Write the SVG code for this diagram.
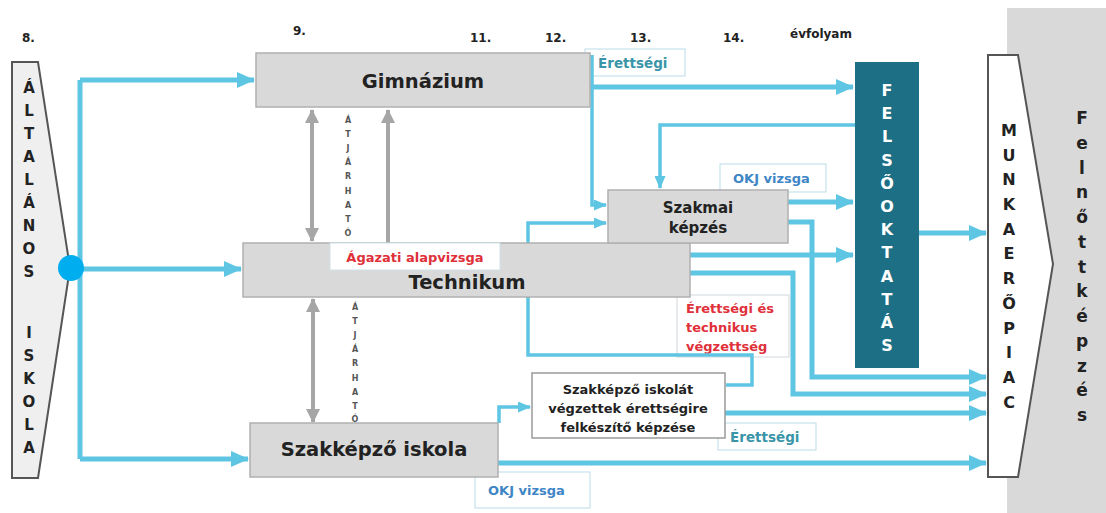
<svg xmlns="http://www.w3.org/2000/svg" width="1106" height="513" viewBox="0 0 1106 513">
<style>
text{font-family:"DejaVu Sans","Liberation Sans",sans-serif;font-weight:bold}
.box{fill:#d9d9d9;stroke:#b0b0b0;stroke-width:1.5}
.hdr{font-size:12px;fill:#222}
.big{font-size:19.5px;fill:#222;text-anchor:middle}
.vl{font-size:15px;fill:#222;text-anchor:middle}
.vw{font-size:16px;fill:#fff;text-anchor:middle}
.tiny{font-size:8px;fill:#555;text-anchor:middle}
.lbl{fill:#fff;stroke:#b9dce8;stroke-width:1}
.teal{font-size:13.5px;fill:#3a95a8}
.okj{font-size:13px;fill:#3f86c6}
.red{font-size:13px;fill:#e0303a}
.c{fill:none;stroke:#5ec5e3;stroke-width:5}
.t{fill:none;stroke:#5ec5e3;stroke-width:3.5}
.g{fill:none;stroke:#a6a6a6;stroke-width:4}
</style>
<defs>
<marker id="ab" viewBox="0 0 18 16" refX="17" refY="8" markerWidth="18" markerHeight="16" markerUnits="userSpaceOnUse" orient="auto"><path d="M0,0 L18,8 L0,16 z" fill="#5ec5e3"/></marker>
<marker id="as" viewBox="0 0 13 11" refX="12" refY="5.5" markerWidth="13" markerHeight="11" markerUnits="userSpaceOnUse" orient="auto"><path d="M0,0 L13,5.5 L0,11 z" fill="#5ec5e3"/></marker>
<marker id="ag" viewBox="0 0 14 14" refX="13" refY="7" markerWidth="14" markerHeight="14" markerUnits="userSpaceOnUse" orient="auto-start-reverse"><path d="M0,0 L14,7 L0,14 z" fill="#a6a6a6"/></marker>
</defs>
<rect width="1106" height="513" fill="#fff"/>
<rect x="1007" y="8" width="99" height="505" fill="#d9d9d9"/>

<g id="headers">
<text class="hdr" x="22" y="42">8.</text>
<text class="hdr" x="293" y="35">9.</text>
<text class="hdr" x="470" y="42">11.</text>
<text class="hdr" x="545" y="42">12.</text>
<text class="hdr" x="630" y="42">13.</text>
<text class="hdr" x="723" y="42">14.</text>
<text class="hdr" x="790" y="38">évfolyam</text>
</g>

<g id="labels">
<g id="lbl-erettsegi-top"><rect class="lbl" x="585" y="49" width="100" height="27"/><text class="teal" x="598" y="68">Érettségi</text></g>
<g id="lbl-okj-top"><rect class="lbl" x="720" y="164" width="106" height="28"/><text class="okj" x="733" y="183">OKJ vizsga</text></g>
<g id="lbl-erett-tech"><rect x="677" y="295" width="112" height="62" fill="#fff" stroke="#d0d8dc" stroke-width="1"/>
<text class="red" x="686" y="313">Érettségi és</text><text class="red" x="686" y="332">technikus</text><text class="red" x="686" y="351">végzettség</text></g>
<g id="lbl-erettsegi-bottom"><rect class="lbl" x="718" y="423" width="98" height="27"/><text class="teal" x="730" y="442">Érettségi</text></g>
<g id="lbl-okj-bottom"><rect class="lbl" x="475" y="472" width="115" height="36"/><text class="okj" x="488" y="495">OKJ vizsga</text></g>
</g>

<g id="connectors">
<path class="c" d="M80,80 V459"/>
<path class="c" d="M80,80 H254" marker-end="url(#ab)"/>
<path class="c" d="M72,269 H241" marker-end="url(#ab)"/>
<path class="c" d="M80,459 H248" marker-end="url(#ab)"/>
<path class="c" d="M590,87 H853" marker-end="url(#ab)"/>
<path class="t" d="M592,55 V205 H606" marker-end="url(#as)"/>
<path class="t" d="M855,125 H660 V188" marker-end="url(#as)"/>
<path class="t" d="M528,243 V223 H606" marker-end="url(#as)"/>
<path class="c" d="M788,202 H853" marker-end="url(#ab)"/>
<path class="c" d="M788,222 H812 V377 H986" marker-end="url(#ab)"/>
<path class="c" d="M690,255 H853" marker-end="url(#ab)"/>
<path class="c" d="M690,273 H793 V394 H986" marker-end="url(#ab)"/>
<path class="t" d="M528,297 V355 H752 V385 H726"/>
<path class="t" d="M499,423 V407 H530" marker-end="url(#as)"/>
<path class="c" d="M725,413 H986" marker-end="url(#ab)"/>
<path class="c" d="M498,463 H986" marker-end="url(#ab)"/>
<path class="c" d="M919,233 H986" marker-end="url(#ab)"/>
<path class="g" d="M312,110 V241" marker-start="url(#ag)" marker-end="url(#ag)"/>
<path class="g" d="M388,243 V110" marker-end="url(#ag)"/>
<path class="g" d="M313,299 V422" marker-start="url(#ag)" marker-end="url(#ag)"/>
</g>

<g id="atjarhato-1">
<text class="tiny"><tspan x="348" y="123">Á</tspan><tspan x="348" y="137">T</tspan><tspan x="348" y="151">J</tspan><tspan x="348" y="165">Á</tspan><tspan x="348" y="179">R</tspan><tspan x="348" y="194">H</tspan><tspan x="348" y="208">A</tspan><tspan x="348" y="222">T</tspan><tspan x="348" y="236">Ó</tspan></text>
</g>
<g id="atjarhato-2">
<text class="tiny"><tspan x="355" y="310">Á</tspan><tspan x="355" y="324">T</tspan><tspan x="355" y="338">J</tspan><tspan x="355" y="352">Á</tspan><tspan x="355" y="366">R</tspan><tspan x="355" y="381">H</tspan><tspan x="355" y="395">A</tspan><tspan x="355" y="409">T</tspan><tspan x="355" y="422">Ó</tspan></text>
</g>

<g id="altalanos-iskola">
<polygon points="12,62 38,62 70,268 38,478 12,478" fill="#efefef" stroke="#555" stroke-width="2"/>
<text class="vl"><tspan x="29" y="93">Á</tspan><tspan x="29" y="116">L</tspan><tspan x="29" y="139">T</tspan><tspan x="29" y="162">A</tspan><tspan x="29" y="185">L</tspan><tspan x="29" y="208">Á</tspan><tspan x="29" y="231">N</tspan><tspan x="29" y="254">O</tspan><tspan x="29" y="277">S</tspan><tspan x="29" y="338">I</tspan><tspan x="29" y="361">S</tspan><tspan x="29" y="384">K</tspan><tspan x="29" y="407">O</tspan><tspan x="29" y="430">L</tspan><tspan x="29" y="453">A</tspan></text>
<circle cx="71" cy="268" r="13" fill="#00aeef"/>
</g>

<g id="gimnazium">
<rect class="box" x="256" y="53" width="334" height="54"/>
<text class="big" x="423" y="88">Gimnázium</text>
</g>

<g id="technikum">
<rect class="box" x="243" y="243" width="447" height="54"/>
<rect x="330" y="243" width="170" height="27" fill="#fff" stroke="#cfe3ea" stroke-width="1"/>
<text class="red" x="415" y="262" text-anchor="middle">Ágazati alapvizsga</text>
<text class="big" x="467" y="289">Technikum</text>
</g>

<g id="szakkepzo-iskola">
<rect class="box" x="250" y="423" width="248" height="54"/>
<text class="big" x="374" y="456">Szakképző iskola</text>
</g>

<g id="szakmai-kepzes">
<rect class="box" x="608" y="190" width="180" height="53"/>
<text x="698" y="213" font-size="15" fill="#222" text-anchor="middle">Szakmai</text>
<text x="698" y="233" font-size="15" fill="#222" text-anchor="middle">képzés</text>
</g>

<g id="szakkepzo-erettsegi">
<rect x="532" y="373" width="193" height="65" fill="#fff" stroke="#9a9a9a" stroke-width="1.5"/>
<text x="628" y="394" font-size="13" fill="#222" text-anchor="middle">Szakképző iskolát</text>
<text x="628" y="413" font-size="13" fill="#222" text-anchor="middle">végzettek érettségire</text>
<text x="628" y="432" font-size="13" fill="#222" text-anchor="middle">felkészítő képzése</text>
</g>

<g id="felsooktatas">
<rect x="855" y="62" width="64" height="306" fill="#1d6f86"/>
<text class="vw"><tspan x="887" y="96">F</tspan><tspan x="887" y="119">E</tspan><tspan x="887" y="142">L</tspan><tspan x="887" y="166">S</tspan><tspan x="887" y="189">Ő</tspan><tspan x="887" y="212">O</tspan><tspan x="887" y="235">K</tspan><tspan x="887" y="258">T</tspan><tspan x="887" y="282">A</tspan><tspan x="887" y="305">T</tspan><tspan x="887" y="328">Á</tspan><tspan x="887" y="351">S</tspan></text>
</g>

<g id="munkaeropiac">
<polygon points="988,55 1018,55 1053,264 1018,477 988,477" fill="#fff" stroke="#555" stroke-width="2"/>
<text class="vl" style="font-size:16px"><tspan x="1009" y="136">M</tspan><tspan x="1009" y="161">U</tspan><tspan x="1009" y="185">N</tspan><tspan x="1009" y="210">K</tspan><tspan x="1009" y="235">A</tspan><tspan x="1009" y="259">E</tspan><tspan x="1009" y="284">R</tspan><tspan x="1009" y="309">Ő</tspan><tspan x="1009" y="334">P</tspan><tspan x="1009" y="358">I</tspan><tspan x="1009" y="383">A</tspan><tspan x="1009" y="408">C</tspan></text>
</g>

<g id="felnottkepzes">
<text class="vl" style="font-size:17px"><tspan x="1082" y="124">F</tspan><tspan x="1082" y="149">e</tspan><tspan x="1082" y="174">l</tspan><tspan x="1082" y="198">n</tspan><tspan x="1082" y="223">ő</tspan><tspan x="1082" y="248">t</tspan><tspan x="1082" y="273">t</tspan><tspan x="1082" y="297">k</tspan><tspan x="1082" y="322">é</tspan><tspan x="1082" y="347">p</tspan><tspan x="1082" y="372">z</tspan><tspan x="1082" y="396">é</tspan><tspan x="1082" y="421">s</tspan></text>
</g>
</svg>
